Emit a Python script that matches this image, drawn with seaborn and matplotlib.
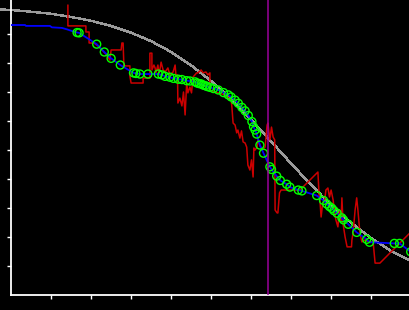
import matplotlib
matplotlib.use("Agg")
import matplotlib.pyplot as plt
import seaborn as sns
import pandas as pd

# ---- data (arbitrary units, no labels shown) ----
x_ticks = [1, 2, 3, 4, 5, 6, 7, 8, 9]
y_ticks = [1, 2, 3, 4, 5, 6, 7, 8, 9]

curve_x = [-0.3, 0, 0.5, 1, 1.5, 2, 2.5, 3, 3.5, 4, 4.5, 5, 5.5, 6, 6.5,
           7, 7.5, 8, 8.5, 9, 9.5, 10]
curve_y = [9.86, 9.84, 9.78, 9.71, 9.60, 9.47, 9.29, 9.06, 8.77, 8.40, 7.94,
           7.40, 6.77, 6.07, 5.32, 4.56, 3.82, 3.12, 2.51, 1.98, 1.54, 1.18]

raw_x = [1.43, 1.43, 1.88, 1.88, 1.96, 1.96, 2.08, 2.18, 2.28, 2.38, 2.48,
         2.51, 2.76, 2.78, 2.81, 2.83, 2.98, 2.98, 3.01, 3.31, 3.31, 3.48,
         3.48, 3.53, 3.53, 3.58, 3.61, 3.63, 3.68, 3.71, 3.76, 3.81, 3.86,
         3.93, 3.98, 4.06, 4.11, 4.13, 4.17, 4.18, 4.23, 4.28, 4.32, 4.36,
         4.40, 4.43, 4.48, 4.52, 4.56, 4.65, 4.68, 4.76, 4.81, 4.88, 4.93,
         4.98, 4.98, 5.11, 5.36, 5.51, 5.53, 5.56, 5.61, 5.65, 5.68, 5.73,
         5.77, 5.81, 5.86, 5.90, 5.93, 5.98, 6.02, 6.06, 6.08, 6.11, 6.16,
         6.18, 6.28, 6.36, 6.41, 6.43, 6.48, 6.52, 6.56, 6.60, 6.61, 6.66,
         6.68, 6.72, 6.76, 7.23, 7.68, 7.71, 7.73, 7.76, 7.80, 7.85, 7.88,
         7.93, 7.97, 8.01, 8.06, 8.10, 8.13, 8.18, 8.22, 8.26, 8.28, 8.31,
         8.36, 8.41, 8.52, 8.53, 8.56, 8.61, 8.65, 8.68, 8.73, 8.78, 8.86,
         8.93, 9.06, 9.11, 9.23, 9.98]
raw_y = [10.01, 9.29, 9.29, 9.08, 9.08, 8.70, 8.70, 8.60, 8.46, 8.32, 8.11,
         8.46, 8.46, 8.70, 8.70, 7.91, 7.91, 7.56, 7.32, 7.32, 7.49, 7.49,
         8.35, 8.35, 7.77, 7.94, 7.84, 7.67, 7.94, 7.60, 8.04, 7.77, 7.70,
         7.84, 7.60, 7.70, 7.94, 7.60, 7.60, 6.63, 6.80, 6.53, 7.01, 6.22,
         7.32, 6.98, 7.18, 6.98, 7.53, 7.67, 7.67, 7.77, 7.67, 7.70, 7.60,
         7.67, 7.08, 7.01, 6.91, 6.74, 6.49, 5.94, 5.87, 5.60, 5.70, 5.42,
         5.67, 5.29, 5.25, 5.11, 4.49, 4.32, 4.67, 4.08, 5.08, 5.01, 5.11,
         5.36, 5.01, 5.11, 5.87, 5.94, 5.36, 5.80, 5.46, 5.36, 2.94, 2.84,
         2.84, 3.53, 3.63, 3.63, 4.25, 3.46, 3.29, 2.70, 3.18, 3.29, 3.63,
         3.70, 3.39, 3.63, 3.29, 2.84, 2.60, 2.36, 2.94, 2.53, 3.36, 2.46,
         2.01, 1.67, 1.67, 1.91, 2.15, 2.94, 3.36, 2.94, 2.15, 1.84, 1.91,
         1.85, 1.85, 1.11, 1.11, 2.15]

lead_x = [0.0, 0.36, 0.38, 0.98, 1.03, 1.28, 1.41, 1.56]
lead_y = [9.32, 9.32, 9.29, 9.29, 9.24, 9.22, 9.17, 9.10]

pts_x = [1.66, 1.71, 2.15, 2.34, 2.51, 2.74, 3.07, 3.13, 3.23, 3.43, 3.69,
         3.78, 3.86, 3.98, 4.07, 4.19, 4.28, 4.40, 4.48, 4.61, 4.66, 4.71,
         4.76, 4.81, 4.86, 4.91, 4.98, 5.07, 5.19, 5.32, 5.44, 5.51, 5.61,
         5.69, 5.78, 5.86, 5.94, 6.03, 6.07, 6.11, 6.15, 6.23, 6.32, 6.48,
         6.52, 6.65, 6.74, 6.90, 6.98, 7.19, 7.28, 7.65, 7.82, 7.90, 7.97,
         8.03, 8.08, 8.16, 8.28, 8.32, 8.44, 8.65, 8.90, 8.97, 9.59, 9.72,
         10.0]
pts_y = [9.06, 9.05, 8.66, 8.39, 8.17, 7.94, 7.67, 7.65, 7.63, 7.63, 7.63,
         7.60, 7.55, 7.52, 7.48, 7.45, 7.44, 7.40, 7.39, 7.36, 7.32, 7.30,
         7.29, 7.25, 7.23, 7.20, 7.17, 7.13, 7.08, 6.99, 6.91, 6.84, 6.73,
         6.62, 6.48, 6.36, 6.20, 5.99, 5.81, 5.70, 5.56, 5.18, 4.90, 4.43,
         4.34, 4.11, 3.96, 3.83, 3.73, 3.63, 3.60, 3.44, 3.27, 3.15, 3.06,
         3.00, 2.92, 2.83, 2.67, 2.60, 2.45, 2.17, 1.93, 1.83, 1.79, 1.79,
         1.50]

marker_line_x = 6.43

# ---- style ----
sns.set_theme(style="dark")
plt.rcParams['font.family'] = ['DejaVu Sans']

fig = plt.figure(figsize=(4.1, 3.1), dpi=100, facecolor="black")
ax = fig.add_axes([10.7 / 410, 14.7 / 310, 1 - 10.7 / 410, 295.3 / 310])
ax.set_facecolor("black")

curve_df = pd.DataFrame({"x": curve_x, "y": curve_y})
raw_df = pd.DataFrame({"x": raw_x, "y": raw_y})
blue_df = pd.DataFrame({"x": lead_x + pts_x, "y": lead_y + pts_y})
pts_df = pd.DataFrame({"x": pts_x, "y": pts_y})

sns.lineplot(data=curve_df, x="x", y="y", ax=ax, color="#9a9a9a", lw=1.0,
             sort=False, estimator=None, clip_on=False, antialiased=False,
             zorder=1)
sns.lineplot(data=raw_df, x="x", y="y", ax=ax, color="#cc0000", lw=1.1,
             sort=False, estimator=None, zorder=2)
sns.lineplot(data=blue_df, x="x", y="y", ax=ax, color="#0000ff", lw=1.3,
             sort=False, estimator=None, zorder=3)
sns.scatterplot(data=pts_df, x="x", y="y", ax=ax, marker="o", s=33,
                facecolor="none", edgecolor="#00ff00", linewidth=1.0,
                zorder=4)
ax.axvline(marker_line_x, color="#9a009a", lw=1.1, zorder=5)

ax.set_xlim(0, 399.3 / 40)
ax.set_ylim(0, 295.3 / 29)
ax.set_xticks(x_ticks)
ax.set_yticks(y_ticks)
ax.set_xticklabels([])
ax.set_yticklabels([])
ax.set_xlabel("")
ax.set_ylabel("")
ax.grid(False)
for side in ["top", "right"]:
    ax.spines[side].set_visible(False)
for side in ["left", "bottom"]:
    ax.spines[side].set_visible(True)
    ax.spines[side].set_color("white")
    ax.spines[side].set_linewidth(1.3)
ax.tick_params(axis="both", colors="white", direction="out", length=3.0,
               width=1.0, bottom=True, left=True)

fig.savefig("out.png", dpi=100, facecolor="black")
